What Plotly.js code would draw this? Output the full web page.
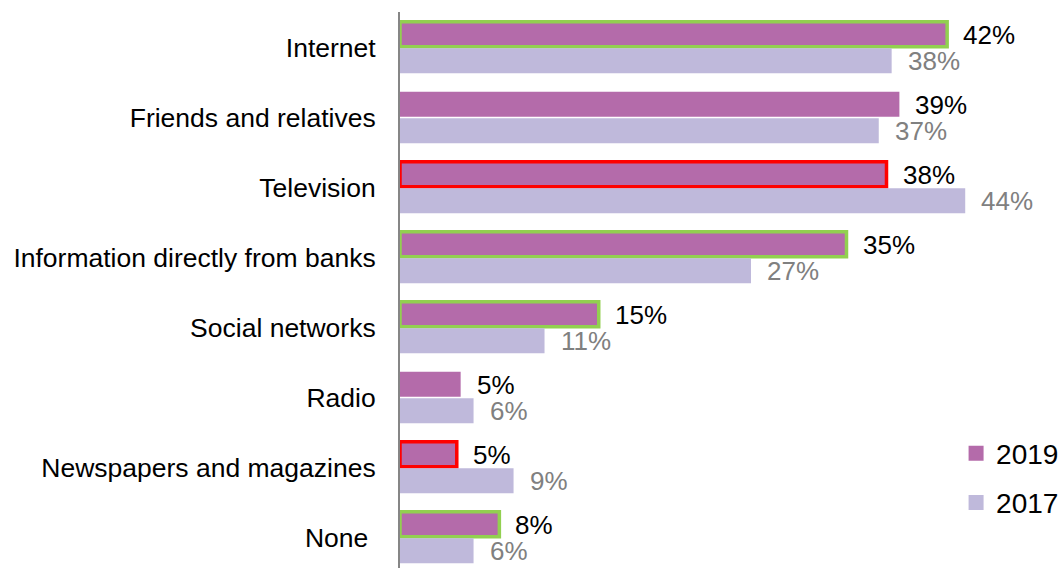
<!DOCTYPE html>
<html>
<head>
<meta charset="utf-8">
<script src="https://cdn.plot.ly/plotly-3.0.1.min.js"></script>
<style>html,body{margin:0;padding:0;background:#fff;}#chart{width:1062px;height:568px;}</style>
</head>
<body>
<div id="chart"></div>
<script>
var categories = ["Internet", "Friends and relatives", "Television", "Information directly from banks",
                  "Social networks", "Radio", "Newspapers and magazines", "None\u00a0"];
var values2019 = [42.4, 38.7, 37.7, 34.6, 15.4, 4.7, 4.4, 7.7];
var values2017 = [38.1, 37.1, 43.8, 27.2, 11.2, 5.7, 8.8, 5.7];
var labels2019 = ["42%", "39%", "38%", "35%", "15%", "5%", "5%", "8%"];
var labels2017 = ["38%", "37%", "44%", "27%", "11%", "6%", "9%", "6%"];
var outline2019 = ["green", "none", "red", "green", "green", "none", "red", "green"];

var FONT = "Arial, 'Liberation Sans', sans-serif";
var C2019 = "#B46BAA", C2017 = "#BFB9DB";
var outlineColor = {green: "#92D050", red: "#FF0000", none: "rgba(0,0,0,0)"};

var trace2019 = {
  type: "bar", orientation: "h", name: "2019", showlegend: false,
  y: categories, x: values2019,
  marker: {
    color: C2019,
    line: {
      color: outline2019.map(function (o) { return outlineColor[o]; }),
      width: outline2019.map(function (o) { return o === "none" ? 0 : 3.5; })
    }
  },
  hoverinfo: "skip"
};
var trace2017 = {
  type: "bar", orientation: "h", name: "2017", showlegend: false,
  y: categories, x: values2017,
  marker: {color: C2017, line: {width: 0}},
  hoverinfo: "skip"
};
// legend-only markers
var leg2019 = {type: "scatter", mode: "markers", name: "2019", x: [null], y: [null], legendgroup: "a",
  marker: {symbol: "square", size: 15, color: C2019}, hoverinfo: "skip"};
var leg2017 = {type: "scatter", mode: "markers", name: "2017", x: [null], y: [null], legendgroup: "b",
  marker: {symbol: "square", size: 15, color: C2017}, hoverinfo: "skip"};

var annotations = [];
categories.forEach(function (c, i) {
  annotations.push({x: values2019[i], y: c, xref: "x", yref: "y", text: labels2019[i],
    showarrow: false, xanchor: "left", yanchor: "middle", xshift: 14, yshift: 12,
    font: {family: FONT, size: 26, color: "#000000"}});
  annotations.push({x: values2017[i], y: c, xref: "x", yref: "y", text: labels2017[i],
    showarrow: false, xanchor: "left", yanchor: "middle", xshift: 14, yshift: -14,
    font: {family: FONT, size: 26, color: "#808080"}});
});

var layout = {
  width: 1062, height: 568,
  margin: {l: 400, r: 0, t: 12, b: 0, pad: 0, autoexpand: false},
  paper_bgcolor: "#ffffff", plot_bgcolor: "#ffffff",
  font: {family: FONT, color: "#000000"},
  barmode: "group", bargap: 0.24, bargroupgap: 0.06,
  xaxis: {range: [0, 51.3], showgrid: false, zeroline: false, showticklabels: false, showline: false, ticks: ""},
  yaxis: {type: "category", categoryorder: "array", categoryarray: categories,
    range: [7.436, -0.507], autorange: false,
    showgrid: false, zeroline: false, showline: true, linecolor: "#868686", linewidth: 2,
    ticks: "", ticklabelstandoff: 17,
    tickfont: {family: FONT, size: 26.5, color: "#000000"}},
  showlegend: true,
  legend: {x: 0.84, xanchor: "left", y: 0.251, yanchor: "top", traceorder: "grouped", tracegroupgap: 10,
    font: {family: FONT, size: 28, color: "#000000"}, bgcolor: "rgba(0,0,0,0)", borderwidth: 0},
  annotations: annotations
};

Plotly.newPlot("chart", [trace2019, trace2017, leg2019, leg2017], layout, {displayModeBar: false, staticPlot: true});
</script>
</body>
</html>
